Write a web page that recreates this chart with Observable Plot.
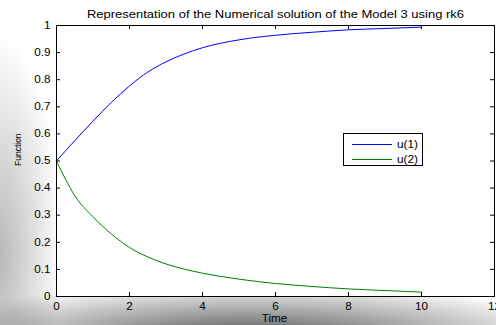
<!DOCTYPE html>
<html><head><meta charset="utf-8">
<script src="https://cdn.jsdelivr.net/npm/d3@7"></script>
<script src="https://cdn.jsdelivr.net/npm/@observablehq/plot@0.6"></script>
<style>
html,body{margin:0;padding:0;background:#fff;}
#wrap{position:relative;width:496px;height:325px;overflow:hidden;font-family:"Liberation Sans",Arial,sans-serif;
  background:
    radial-gradient(ellipse 340px 56px at 250px 338px, rgba(0,0,0,0.68), rgba(0,0,0,0) 100%),
    radial-gradient(ellipse 62px 220px at 0px 255px, rgba(0,0,0,0.28), rgba(0,0,0,0) 100%),
    #fff;}
#chart{position:absolute;left:0;top:0;}
#legend{position:absolute;left:343px;top:133px;width:80px;height:33px;border:1px solid #000;background:#fff;box-sizing:border-box;}
#legend .row{position:absolute;left:8px;height:12px;display:flex;align-items:center;}
#legend .sw{width:40px;height:0;border-top:1px solid;margin-right:5px;}
#legend .lb{font-size:10px;display:inline-block;transform:scaleX(1.18);transform-origin:left center;}
</style></head><body>
<div id="wrap"><div id="chart"></div><div id="legend"></div></div>
<script>
const title = "Representation of the Numerical solution of the Model 3 using rk6";
const xLabel = "Time";
const yLabel = "Function";
const seriesNames = ["u(1)", "u(2)"];
const seriesColors = ["#0000ff", "#008000"];
const time = [0, 0.25, 0.5, 1, 1.5, 2, 2.5, 3, 3.5, 4, 5, 6, 7, 8, 9, 10];
const u1 = [0.5, 0.538, 0.575, 0.647, 0.716, 0.777, 0.828, 0.866, 0.895, 0.918, 0.947, 0.964, 0.975, 0.984, 0.989, 0.994];
const u2 = [0.5, 0.432, 0.372, 0.294, 0.231, 0.181, 0.146, 0.12, 0.101, 0.086, 0.064, 0.048, 0.037, 0.028, 0.022, 0.016];
const xTicks = [0, 2, 4, 6, 8, 10, 12];
const yTicks = [0, 0.1, 0.2, 0.3, 0.4, 0.5, 0.6, 0.7, 0.8, 0.9, 1];
const yTickLabels = ["0", "0.1", "0.2", "0.3", "0.4", "0.5", "0.6", "0.7", "0.8", "0.9", "1"];

const data = time.flatMap((t, i) => [
  {t, v: u1[i], s: seriesNames[0]},
  {t, v: u2[i], s: seriesNames[1]}
]);

const W = 496, H = 325, mL = 56, mR = 2, mT = 25, mB = 29, TICK = 4;
const fw = W - mL - mR, fh = H - mT - mB;

const chart = Plot.plot({
  width: W, height: H,
  marginLeft: mL, marginRight: mR, marginTop: mT, marginBottom: mB,
  style: {background: "transparent", fontFamily: "'Liberation Sans', Arial, sans-serif", fontSize: "10px", color: "#000"},
  x: {domain: [0, 12]},
  y: {domain: [0, 1]},
  color: {domain: seriesNames, range: seriesColors},
  marks: [
    Plot.frame({fill: "white"}),
    Plot.line(data, {x: "t", y: "v", z: "s", stroke: "s", strokeWidth: 1, curve: "monotone-x"}),
    // inward ticks on all four sides (MATLAB box style)
    Plot.tickX(xTicks, {x: d => d, insetTop: fh - TICK, stroke: "black"}),
    Plot.tickX(xTicks, {x: d => d, insetBottom: fh - TICK, stroke: "black"}),
    Plot.tickY(yTicks, {y: d => d, insetRight: fw - TICK, stroke: "black"}),
    Plot.tickY(yTicks, {y: d => d, insetLeft: fw - TICK, stroke: "black"}),
    Plot.axisX(xTicks, {anchor: "bottom", tickSize: 0, tickPadding: 6, label: null}),
    Plot.axisY(yTicks, {anchor: "left", tickSize: 0, tickPadding: 6, tickFormat: d => yTickLabels[yTicks.indexOf(d)], label: null}),
    Plot.frame({stroke: "black"}),
    Plot.text([title], {frameAnchor: "top", lineAnchor: "middle", dy: -11, fontSize: 10}),
    Plot.text([xLabel], {frameAnchor: "bottom", lineAnchor: "middle", dy: 22.5, dx: -1, fontSize: 10}),
    Plot.text([yLabel], {frameAnchor: "left", dx: -38.5, dy: 5, rotate: -90, fontSize: 8.5})
  ]
});
document.getElementById("chart").appendChild(chart);

// horizontal stretch of text to match the reference's wide glyphs
chart.querySelectorAll("text").forEach(t => {
  if (!t.textContent) return;
  const tr = (t.getAttribute("transform") || "") + (t.parentNode.getAttribute("transform") || "");
  if (tr.includes("rotate")) return;
  const L = t.getComputedTextLength();
  if (L <= 0) return;
  const k = t.textContent === title ? 1.3 : 1.17;
  t.setAttribute("textLength", L * k);
  t.setAttribute("lengthAdjust", "spacingAndGlyphs");
});

// legend
const leg = document.getElementById("legend");
seriesNames.forEach((name, i) => {
  const row = document.createElement("div");
  row.className = "row";
  row.style.top = (4 + i * 15) + "px";
  const sw = document.createElement("span");
  sw.className = "sw";
  sw.style.borderColor = seriesColors[i];
  const lb = document.createElement("span");
  lb.className = "lb";
  lb.textContent = name;
  row.appendChild(sw); row.appendChild(lb);
  leg.appendChild(row);
});
</script>
</body></html>
